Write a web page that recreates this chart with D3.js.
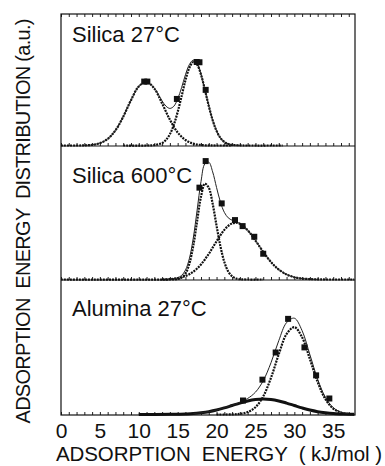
<!DOCTYPE html>
<html>
<head>
<meta charset="utf-8">
<title>Adsorption energy distribution</title>
<script src="https://d3js.org/d3.v7.min.js"></script>
<style>
body { margin: 0; background: #fff; }
svg text { font-family: Arial, 'Liberation Sans', sans-serif; fill: #111; }
</style>
</head>
<body>
<script>
// energy (kJ/mol) vs distribution (a.u., 0-100 per panel)
const silica27Low = [[0,0],[2,0],[3,0.1],[4,0.5],[5,1.8],[6,5.0],[7,11.5],[8,21.9],[9,34.5],[10,44.9],[11,48.4],[12,43.3],[13,32.0],[14,19.6],[15,9.9],[16,4.2],[17,1.4],[18,0.4],[19,0.1],[20,0],[22,0]];
const silica27High = [[8,0],[11,0],[12,0.3],[13,1.9],[13.5,4.3],[14,8.6],[14.5,15.6],[15,25.5],[15.5,37.3],[16,49.6],[16.5,59.0],[17,63.5],[17.5,61.5],[18,53.9],[18.5,42.3],[19,30.1],[19.5,19.2],[20,11.1],[20.5,5.7],[21,2.7],[21.5,1.1],[22,0.5],[23,0.1],[24,0],[28.5,0]];
const silica27Sum = [[3,0.1],[4,0.5],[5,1.8],[6,5.0],[7,11.5],[8,21.9],[9,34.5],[10,44.9],[11,48.4],[12,43.6],[12.5,39.0],[13,33.9],[13.5,29.9],[14,28.2],[14.5,29.8],[15,35.4],[15.5,43.9],[16,53.8],[16.5,61.5],[17,64.9],[17.5,62.3],[18,54.3],[18.5,42.5],[19,30.2],[19.5,19.2],[20,11.1],[20.5,5.7],[21,2.7],[22,0.5],[23,0.1]];
const silica27Points = [[10.7,48.6],[11.1,48.6],[14.9,35.4],[17.45,63.5],[17.8,63.3],[18.6,42.3]];

const silica600Low = [[0,0],[14,0],[15,0.3],[15.5,1.4],[16,4.4],[16.5,11.7],[17,25.0],[17.5,43.7],[18,62.1],[18.5,71.7],[19,68.7],[19.5,56.7],[20,40.3],[20.5,24.8],[21,13.1],[21.5,6.0],[22,2.4],[22.5,0.8],[23,0.2],[24,0],[26,0]];
const silica600High = [[13,0],[14,0.3],[14.5,0.6],[15,1.0],[15.5,1.6],[16,2.6],[16.5,3.9],[17,5.8],[17.5,8.2],[18,11.3],[18.5,15.0],[19,19.2],[19.5,23.9],[20,28.6],[20.5,33.2],[21,37.2],[21.5,40.2],[22,42.0],[22.5,42.5],[23,41.7],[24,36.9],[25,29.2],[26,20.7],[27,13.1],[28,7.4],[29,3.8],[30,1.7],[31,0.7],[32,0.3],[33,0.1],[34,0],[37.7,0]];
const silica600Sum = [[14,0.3],[14.5,0.6],[15,1.3],[15.5,3.0],[16,7.0],[16.5,15.6],[17,30.8],[17.5,51.9],[18,73.4],[18.5,86.7],[19,87.9],[19.5,80.6],[20,68.9],[20.5,58.0],[21,50.3],[21.5,46.2],[22,44.4],[22.5,43.3],[23,41.9],[24,36.9],[25,29.2],[26,20.7],[27,13.1],[28,7.4],[29,3.8],[30,1.7],[31,0.7],[32,0.3],[33,0.1]];
const silica600Points = [[17.8,68.8],[18.6,88.7],[20.66,57],[22.37,44.5],[23.35,40],[24.85,32],[26.0,19.3]];

const alumina27Main = [[20,0],[22,0.1],[23,0.5],[24,1.8],[25,5.4],[26,13.5],[27,27.3],[28,44.8],[29,59.8],[30,64.9],[31,57.4],[32,41.2],[33,24.1],[34,11.4],[35,4.4],[36,1.4],[37,0.4],[37.7,0.1]];
const alumina27Broad = [[10,0],[14,0.1],[15,0.2],[16,0.4],[17,0.7],[18,1.3],[19,2.1],[20,3.3],[21,4.9],[22,6.7],[23,8.5],[24,10.1],[25,11.2],[26,11.6],[27,11.2],[28,10.1],[29,8.5],[30,6.7],[31,4.9],[32,3.3],[33,2.1],[34,1.3],[35,0.7],[36,0.4],[37,0.2],[37.7,0.1]];
const alumina27Sum = [[17,0.7],[18,1.3],[19,2.1],[20,3.3],[21,4.9],[22,6.8],[23,9.0],[24,11.9],[25,16.6],[26,25.1],[27,38.5],[28,54.9],[29,68.3],[30,71.6],[31,62.3],[32,44.5],[33,26.2],[34,12.7],[35,5.1],[36,1.8],[37,0.6]];
const alumina27Points = [[23.4,10.4],[25.9,25.9],[27.6,46.1],[29.2,71.1],[31.3,49.9],[32.8,29.1],[34.5,11.9]];

const panelNames = ['Silica 27°C', 'Silica 600°C', 'Alumina 27°C'];
const xTickValues = [0, 5, 10, 15, 20, 25, 30, 35];
const xTitle = 'ADSORPTION  ENERGY  ( kJ/mol )';
const yTitle = 'ADSORPTION  ENERGY  DISTRIBUTION (a.u.)';

const W = 385, H = 466;
const left = 61, right = 355;

const svg = d3.select('body').append('svg')
    .attr('width', W)
    .attr('height', H);

const x = d3.scaleLinear().domain([0, 37.8]).range([left, right]);

const panels = [
    { name: panelNames[0], top: 14, bottom: 146, labelY: 42,
      parts: [{ d: silica27Low, s: 'dot' }, { d: silica27High, s: 'dot' }],
      sum: silica27Sum, pts: silica27Points },
    { name: panelNames[1], top: 146, bottom: 280, labelY: 183,
      parts: [{ d: silica600Low, s: 'dot' }, { d: silica600High, s: 'dot' }],
      sum: silica600Sum, pts: silica600Points },
    { name: panelNames[2], top: 280, bottom: 415, labelY: 316,
      parts: [{ d: alumina27Broad, s: 'thick' }, { d: alumina27Main, s: 'dot' }],
      sum: alumina27Sum, pts: alumina27Points }
];

panels.forEach((p, i) => {
    const y = d3.scaleLinear().domain([0, 100]).range([p.bottom - 0.5, p.top]);
    const g = svg.append('g');

    // minor ticks on the bottom of every panel, pointing up
    g.append('g')
        .attr('transform', `translate(0,${p.bottom})`)
        .call(d3.axisBottom(x).tickValues(d3.range(0, 38)).tickSize(-3).tickFormat(''))
        .call(a => a.select('.domain').remove())
        .selectAll('line').attr('stroke', '#222');

    if (i === 0) {
        g.append('g')
            .attr('transform', `translate(0,${p.top})`)
            .call(d3.axisTop(x).tickValues(d3.range(0, 38)).tickSize(-3).tickFormat(''))
            .call(a => a.select('.domain').remove())
            .selectAll('line').attr('stroke', '#222');
    }

    const line = d3.line()
        .x(d => x(d[0]))
        .y(d => y(d[1]))
        .curve(d3.curveCatmullRom.alpha(0.5));

    p.parts.forEach(part => {
        g.append('path')
            .datum(part.d)
            .attr('fill', 'none')
            .attr('stroke', '#111')
            .attr('stroke-width', part.s === 'thick' ? 3 : 2.2)
            .attr('stroke-dasharray', part.s === 'dot' ? '2 1' : null)
            .attr('d', line);
    });

    g.append('path')
        .datum(p.sum)
        .attr('fill', 'none')
        .attr('stroke', '#222')
        .attr('stroke-width', 1)
        .attr('d', line);

    g.selectAll('rect.pt')
        .data(p.pts)
        .enter()
        .append('rect')
        .attr('class', 'pt')
        .attr('x', d => x(d[0]) - 3)
        .attr('y', d => y(d[1]) - 3)
        .attr('width', 6)
        .attr('height', 6)
        .attr('fill', '#111');

    g.append('text')
        .attr('x', 72)
        .attr('y', p.labelY)
        .attr('font-size', 22)
        .text(p.name);
});

// frame
svg.append('rect')
    .attr('x', left).attr('y', 14)
    .attr('width', right - left).attr('height', 415 - 14)
    .attr('fill', 'none').attr('stroke', '#111').attr('stroke-width', 1.2);
[146, 280].forEach(yy => {
    svg.append('line')
        .attr('x1', left).attr('x2', right)
        .attr('y1', yy).attr('y2', yy)
        .attr('stroke', '#111').attr('stroke-width', 1.2);
});

// x tick labels
svg.append('g')
    .attr('transform', 'translate(0,415)')
    .call(d3.axisBottom(x).tickValues(xTickValues).tickSize(0).tickPadding(8))
    .call(a => a.select('.domain').remove())
    .selectAll('text')
    .attr('font-size', 21)
    .style('font-family', 'Arial, Liberation Sans, sans-serif')
    .attr('fill', '#111');

svg.append('text')
    .attr('x', 56)
    .attr('y', 461)
    .attr('font-size', 20.5)
    .attr('textLength', 326)
    .attr('lengthAdjust', 'spacing')
    .style('white-space', 'pre')
    .text(xTitle);

svg.append('text')
    .attr('transform', 'translate(30,221) rotate(-90)')
    .attr('text-anchor', 'middle')
    .attr('font-size', 20)
    .attr('textLength', 405)
    .attr('lengthAdjust', 'spacing')
    .style('white-space', 'pre')
    .text(yTitle);
</script>
</body>
</html>
